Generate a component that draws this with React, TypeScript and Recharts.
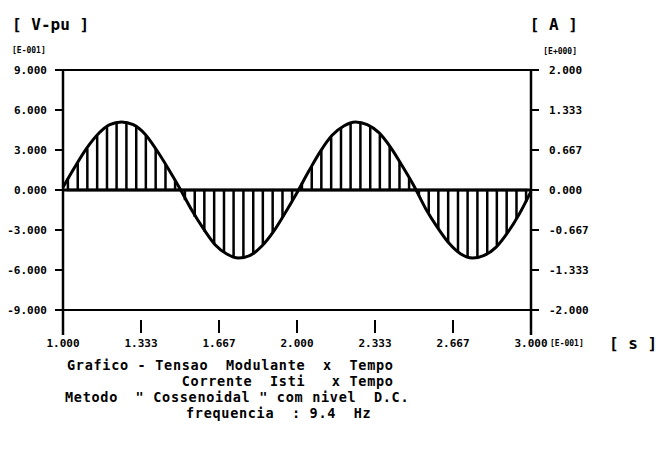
import React from 'react';
import { LineChart, Line, XAxis, YAxis, ReferenceLine } from 'recharts';

// time axis in units of E-001 s
const envTime = [
  1.0, 1.05, 1.1, 1.15, 1.2, 1.25, 1.3, 1.35, 1.4, 1.45, 1.5, 1.55, 1.6, 1.65, 1.7, 1.75, 1.8, 1.85, 1.9, 1.95,
  2.0, 2.05, 2.1, 2.15, 2.2, 2.25, 2.3, 2.35, 2.4, 2.45, 2.5, 2.55, 2.6, 2.65, 2.7, 2.75, 2.8, 2.85, 2.9, 2.95, 3.0,
];
// modulating voltage, E-001 pu
const envVolt = [
  0.2, 1.7, 3.1, 4.2, 4.9, 5.1, 4.9, 4.2, 3.0, 1.6, 0.1, -1.5, -2.9, -4.1, -4.8, -5.1, -4.9, -4.2, -3.1, -1.7,
  -0.2, 1.4, 2.9, 4.1, 4.8, 5.1, 4.9, 4.3, 3.2, 1.8, 0.3, -1.4, -2.8, -4.0, -4.8, -5.1, -4.9, -4.3, -3.2, -1.8, -0.1,
];

// current pulses Isti (time E-001 s, amplitude A)
const pulseTime = [
  1.021, 1.063, 1.104, 1.146, 1.188, 1.229, 1.271, 1.313, 1.354, 1.396, 1.438, 1.479,
  1.521, 1.563, 1.604, 1.646, 1.688, 1.729, 1.771, 1.813, 1.854, 1.896, 1.938, 1.979,
  2.021, 2.063, 2.104, 2.146, 2.188, 2.229, 2.271, 2.313, 2.354, 2.396, 2.438, 2.479,
  2.521, 2.563, 2.604, 2.646, 2.688, 2.729, 2.771, 2.813, 2.854, 2.896, 2.938, 2.979,
];
const pulseAmp = [
  0.2, 0.45, 0.69, 0.9, 1.05, 1.12, 1.12, 1.05, 0.9, 0.69, 0.43, 0.15,
  -0.17, -0.45, -0.69, -0.9, -1.05, -1.12, -1.12, -1.05, -0.9, -0.7, -0.45, -0.18,
  0.12, 0.4, 0.66, 0.88, 1.04, 1.12, 1.12, 1.06, 0.92, 0.72, 0.47, 0.2,
  -0.1, -0.38, -0.64, -0.87, -1.04, -1.12, -1.12, -1.06, -0.92, -0.72, -0.48, -0.2,
];

const xTicks = [1, 1.3333, 1.6667, 2, 2.3333, 2.6667, 3];
const vTicks = [-9, -6, -3, 0, 3, 6, 9];
const aTicks = [-2, -1.3333, -0.6667, 0, 0.6667, 1.3333, 2];

const titleLines: [string, number, number][] = [
  ['Grafico - Tensao  Modulante  x  Tempo', 67, 365],
  ['             Corrente  Isti   x Tempo', 67, 381],
  ['Metodo  " Cossenoidal " com nivel  D.C.', 65, 397],
  ['frequencia  : 9.4  Hz', 186, 413],
];

const envData = envTime.map((t, i) => ({ t, v: envVolt[i] }));
const pulseData = pulseTime.flatMap((t, i) => [
  { t, i: 0 },
  { t, i: pulseAmp[i] },
  { t, i: 0 },
]);

const FONT = '"DejaVu Sans Mono", monospace';
const tickStyle = { fontFamily: FONT, fontWeight: 'bold', fontSize: 11, fill: '#000' };

const XTick = ({ x, y, payload }: any) => (
  <g>
    <line x1={x} x2={x} y1={y + 10} y2={y + 23} stroke="#000" strokeWidth={2} />
    <text x={x} y={y + 33} textAnchor="middle" dominantBaseline="central" style={tickStyle}>
      {payload.value.toFixed(3)}
    </text>
  </g>
);

const App = () => {
  return (
    <div style={{ position: 'absolute', left: 0, top: 0, width: 657, height: 449, background: '#fff' }}>
      <LineChart width={657} height={449} data={envData} margin={{ top: 70, right: 66, bottom: 99, left: 0 }}>
        <XAxis
          dataKey="t"
          type="number"
          domain={[1, 3]}
          ticks={xTicks}
          height={40}
          axisLine={false}
          tickLine={false}
          tickSize={0}
          tickMargin={0}
          tick={<XTick />}
          interval={0}
        />
        <YAxis
          yAxisId="v"
          domain={[-9, 9]}
          ticks={vTicks}
          width={63}
          interval={0}
          tickSize={8}
          tickMargin={8}
          axisLine={{ stroke: '#000', strokeWidth: 2.5 }}
          tickLine={{ stroke: '#000', strokeWidth: 2 }}
          tick={tickStyle}
          tickFormatter={(v: number) => v.toFixed(3)}
        />
        <YAxis
          yAxisId="a"
          orientation="right"
          domain={[-2, 2]}
          ticks={aTicks}
          width={60}
          interval={0}
          tickSize={8}
          tickMargin={10}
          axisLine={{ stroke: '#000', strokeWidth: 2.5 }}
          tickLine={{ stroke: '#000', strokeWidth: 2 }}
          tick={{ ...tickStyle, textAnchor: 'start' }}
          tickFormatter={(v: number) => v.toFixed(3)}
        />
        <ReferenceLine yAxisId="v" y={9} stroke="#000" strokeWidth={2} />
        <ReferenceLine yAxisId="v" y={-9} stroke="#000" strokeWidth={2} />
        <ReferenceLine yAxisId="v" y={0} stroke="#000" strokeWidth={3} />
        <Line
          yAxisId="a"
          data={pulseData}
          dataKey="i"
          type="linear"
          stroke="#000"
          strokeWidth={2.5}
          dot={false}
          isAnimationActive={false}
        />
        <Line
          yAxisId="v"
          dataKey="v"
          type="monotone"
          stroke="#000"
          strokeWidth={3}
          dot={false}
          isAnimationActive={false}
        />
      </LineChart>
      <svg width={657} height={449} style={{ position: 'absolute', left: 0, top: 0, pointerEvents: 'none' }}>
        <g fontFamily={FONT} fontWeight="bold" fill="#000">
          <text x={12} y={24} fontSize={16} dominantBaseline="central" xmlSpace="preserve">[ V-pu ]</text>
          <text x={12} y={50} fontSize={8} dominantBaseline="central">[E-001]</text>
          <text x={578} y={24} fontSize={16} textAnchor="end" dominantBaseline="central" xmlSpace="preserve">[ A ]</text>
          <text x={577} y={51} fontSize={8} textAnchor="end" dominantBaseline="central">[E+000]</text>
          <text x={550} y={343} fontSize={8} dominantBaseline="central">[E-001]</text>
          <text x={609} y={343} fontSize={16} dominantBaseline="central" xmlSpace="preserve">[ s ]</text>
          {titleLines.map(([s, x, y]) => (
            <text
              key={y}
              x={x}
              y={y}
              fontSize={13.5}
              dominantBaseline="central"
              xmlSpace="preserve"
              style={{ whiteSpace: 'pre', letterSpacing: 0.7 }}
            >
              {s}
            </text>
          ))}
        </g>
        <line x1={63} x2={63} y1={309} y2={335} stroke="#000" strokeWidth={2.5} />
        <line x1={531} x2={531} y1={309} y2={335} stroke="#000" strokeWidth={2.5} />
      </svg>
    </div>
  );
};

export default App;
